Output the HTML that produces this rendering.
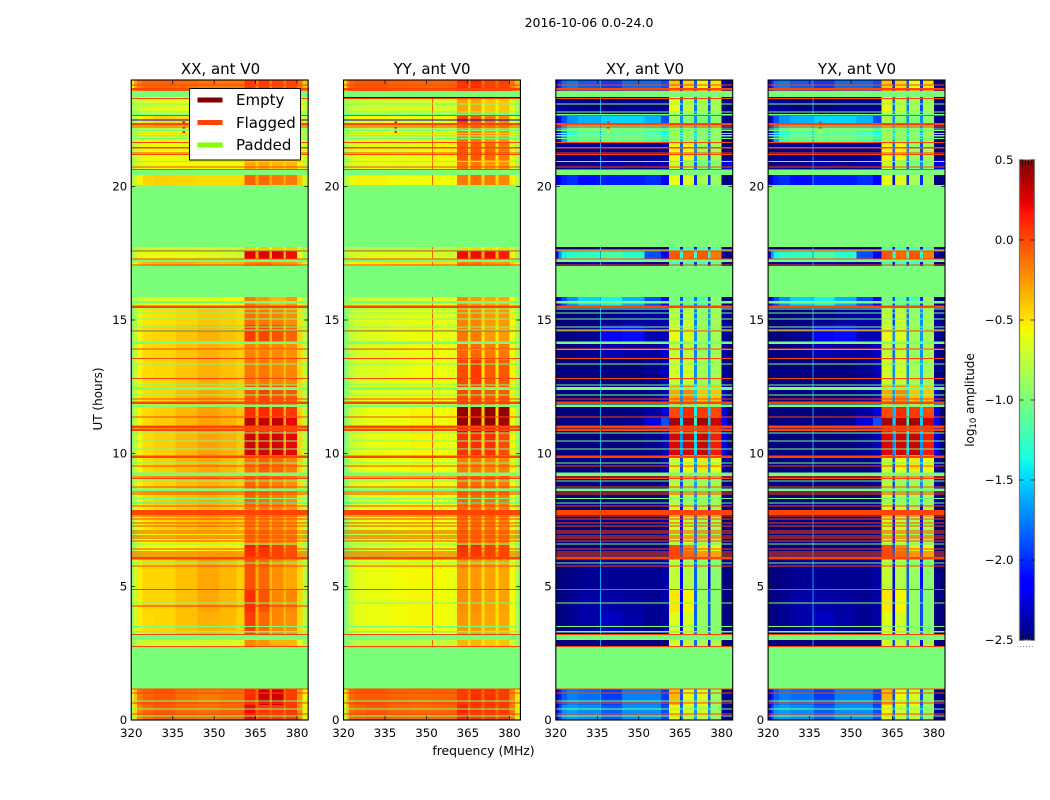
<!DOCTYPE html>
<html>
<head>
<meta charset="utf-8">
<title>2016-10-06 waterfall</title>
<style>
html,body{margin:0;padding:0;background:#fff;}
svg{display:block;}
text{font-family:"DejaVu Sans","Liberation Sans",sans-serif;fill:#000;}
</style>
</head>
<body>
<svg id="figure" width="1050" height="800" viewBox="0 0 1050 800" xmlns="http://www.w3.org/2000/svg">
  <rect x="0" y="0" width="1050" height="800" fill="#fff"/>
  <text x="589" y="27" font-size="12.5" text-anchor="middle">2016-10-06 0.0-24.0</text>
  <g id="plots"></g>
  <text x="220.5" y="74" font-size="15" text-anchor="middle">XX, ant V0</text>
  <text x="432" y="74" font-size="15" text-anchor="middle">YY, ant V0</text>
  <text x="645" y="74" font-size="15" text-anchor="middle">XY, ant V0</text>
  <text x="857" y="74" font-size="15" text-anchor="middle">YX, ant V0</text>
  <text transform="translate(102,399) rotate(-90)" font-size="12" text-anchor="middle">UT (hours)</text>
  <text x="483.5" y="755" font-size="12.4" text-anchor="middle">frequency (MHz)</text>
  <g>
    <rect x="189.5" y="88.5" width="111" height="71.5" fill="#fff" stroke="#000" stroke-width="1"/>
    <rect x="197.5" y="97.5" width="25" height="5" fill="#800000"/>
    <text x="236" y="105" font-size="15">Empty</text>
    <rect x="197.5" y="120" width="25" height="5" fill="#ff4500"/>
    <text x="236" y="128" font-size="15">Flagged</text>
    <rect x="197.5" y="142.5" width="25" height="5" fill="#7fff00"/>
    <text x="236" y="150" font-size="15">Padded</text>
  </g>
  <g id="colorbar"></g>
  <text transform="translate(974,400) rotate(-90)" font-size="12" text-anchor="middle">log<tspan font-size="8.5" dy="2">10</tspan><tspan dy="-2"> amplitude</tspan></text>
  <line x1="1017" x2="1035" y1="646.5" y2="646.5" stroke="#888" stroke-width="1" stroke-dasharray="1 2"/>
</svg>
<script>
// Axis ticks
const freqTicks = [320, 335, 350, 365, 380];
const utTicks = [0, 5, 10, 15, 20];
const colorTicks = [0.5, 0, -0.5, -1, -1.5, -2, -2.5];
const colorTickLabels = ['0.5', '0.0', '\u22120.5', '\u22121.0', '\u22121.5', '\u22122.0', '\u22122.5'];

// Frequency bin edges (MHz)
const binEdgesMHz = [320,321,322,324,328,336,344,352,358,361,365,366,370,371,375,376,380,382,384];

// Time segments [start, end] in UT hours, listed from top of plot to bottom
const segmentsUT = [
[24,23.59],[23.36,22.69],[22.69,22.35],[22.35,21.68],[21.68,21.0],[21.0,20.44],[20.44,20.06],
[17.74,17.59],[17.59,17.29],[17.29,17.03],[15.86,15.53],[15.53,14.81],[14.81,14.14],[14.14,13.5],
[13.5,12.56],[12.56,11.81],[11.81,11.33],[11.33,11.03],[11.03,10.76],[10.76,9.94],[9.94,9.23],
[9.23,8.06],[8.06,7.13],[7.13,6.56],[6.56,6.08],[6.08,4.88],[4.88,4.05],[4.05,3.19],[3.0,2.76],
[1.16,0.56],[0.56,0]
];

// log10 amplitude x 100, one row per time segment, one column per frequency bin
const ampXX = [
[-60,-30,-15,-10,-10,-12,-15,-15,-15,5,-15,5,-15,0,-15,0,-15,-40],
[-85,-80,-72,-68,-65,-63,-63,-63,-63,-40,-50,-35,-50,-40,-50,-40,-55,-75],
[-85,-75,-60,-48,-43,-47,-52,-52,-52,-20,-45,-25,-45,-35,-45,-40,-50,-70],
[-85,-75,-67,-58,-54,-58,-60,-58,-58,-25,-45,-30,-45,-35,-45,-35,-55,-75],
[-85,-75,-67,-58,-57,-60,-57,-52,-52,-25,-45,-30,-45,-35,-45,-35,-55,-70],
[-85,-75,-67,-62,-58,-58,-58,-58,-58,-30,-45,-30,-45,-35,-45,-35,-55,-75],
[-85,-70,-55,-45,-43,-45,-47,-47,-47,-8,-30,-10,-30,-15,-30,-15,-40,-70],
[-90,-80,-75,-72,-70,-70,-70,-72,-75,-40,-55,-40,-55,-40,-55,-40,-70,-85],
[-85,-75,-65,-60,-60,-62,-65,-70,-75,25,-30,25,-35,25,-35,20,-60,-85],
[-80,-60,-45,-37,-33,-33,-37,-37,-37,-20,-20,-15,-20,-25,-25,-25,-40,-70],
[-90,-80,-70,-65,-60,-60,-60,-55,-55,-15,-30,-25,-35,-35,-35,-25,-55,-80],
[-95,-80,-60,-50,-48,-45,-40,-42,-47,-12,-32,-15,-35,-18,-35,-22,-50,-80],
[-95,-75,-55,-47,-45,-40,-33,-38,-42,5,-32,2,-35,-3,-35,-8,-45,-75],
[-95,-75,-55,-47,-45,-40,-33,-38,-43,-18,-34,-18,-36,-20,-36,-22,-45,-75],
[-95,-75,-55,-47,-45,-40,-33,-38,-43,-15,-32,-15,-36,-20,-36,-20,-45,-75],
[-95,-75,-55,-47,-45,-37,-30,-35,-42,-3,-32,3,-34,-3,-35,-5,-45,-75],
[-95,-75,-55,-47,-42,-35,-28,-33,-40,8,-30,10,-32,8,-32,5,-45,-75],
[-95,-75,-55,-47,-42,-35,-28,-33,-40,35,-27,33,-30,33,-32,22,-45,-75],
[-95,-75,-55,-47,-42,-35,-28,-33,-40,8,-30,8,-32,8,-32,3,-45,-75],
[-95,-75,-55,-47,-42,-35,-28,-33,-40,28,-25,28,-25,28,-28,22,-45,-75],
[-95,-75,-55,-47,-43,-35,-30,-35,-42,-12,-30,-7,-27,-10,-30,-17,-45,-75],
[-90,-72,-55,-47,-43,-37,-33,-38,-44,-8,-36,-12,-36,-17,-36,-22,-50,-78],
[-90,-72,-55,-50,-45,-40,-35,-40,-46,-14,-38,-17,-38,-20,-38,-24,-50,-78],
[-95,-80,-65,-58,-55,-52,-50,-52,-55,-15,-35,-15,-35,-20,-35,-22,-55,-80],
[-90,-78,-65,-60,-58,-55,-52,-52,-55,15,-20,12,-25,3,-25,-3,-50,-80],
[-90,-70,-52,-45,-45,-38,-30,-35,-42,-3,-32,-10,-36,-22,-36,-30,-45,-78],
[-90,-70,-52,-45,-45,-38,-30,-35,-42,8,-32,-3,-34,-20,-34,-20,-45,-78],
[-90,-70,-52,-47,-45,-38,-33,-36,-43,3,-32,-10,-36,-20,-36,-22,-45,-78],
[-95,-85,-75,-72,-70,-70,-70,-68,-65,-20,-30,-25,-35,-35,-35,-35,-60,-85],
[-70,-40,-15,-8,-5,-12,-15,-12,-12,10,-10,30,-8,28,-10,5,-25,-55],
[-80,-45,-20,-10,-5,-10,-12,-8,-8,20,-5,5,-5,5,-10,5,-20,-55]
];
const ampYY = [
[-50,-20,-8,-5,-5,-8,-10,-10,-8,8,-15,10,-10,3,-10,3,-15,-35],
[-90,-85,-75,-72,-70,-68,-68,-68,-68,-30,-55,-30,-55,-40,-55,-40,-65,-85],
[-85,-75,-60,-55,-55,-58,-60,-58,-55,5,-50,-5,-50,-15,-50,-20,-60,-80],
[-90,-80,-70,-65,-60,-62,-65,-62,-60,-15,-50,-15,-50,-25,-50,-25,-62,-85],
[-90,-80,-68,-62,-60,-62,-60,-55,-55,-5,-50,-5,-50,-10,-50,-15,-60,-85],
[-90,-80,-70,-65,-62,-63,-62,-60,-60,-12,-50,-15,-50,-25,-50,-25,-62,-85],
[-85,-75,-62,-55,-55,-58,-58,-58,-58,-15,-45,-12,-45,-15,-45,-20,-55,-80],
[-95,-90,-82,-80,-78,-78,-78,-80,-82,-45,-60,-45,-60,-45,-60,-45,-75,-90],
[-90,-80,-72,-68,-65,-65,-68,-70,-72,20,-30,20,-35,20,-35,15,-60,-90],
[-85,-70,-58,-52,-50,-48,-48,-48,-50,-15,-25,-15,-30,-25,-30,-25,-45,-75],
[-92,-85,-75,-70,-68,-68,-66,-62,-60,-20,-40,-25,-45,-30,-45,-30,-60,-85],
[-100,-90,-75,-68,-65,-62,-60,-62,-65,-18,-45,-18,-45,-25,-45,-25,-55,-85],
[-100,-90,-75,-68,-63,-60,-58,-60,-62,-15,-48,-15,-50,-25,-50,-25,-58,-85],
[-100,-90,-75,-68,-65,-62,-60,-60,-62,-10,-48,-10,-50,-15,-50,-15,-58,-85],
[-100,-90,-75,-68,-65,-62,-58,-60,-62,0,-48,5,-50,-5,-50,-5,-55,-85],
[-100,-88,-72,-65,-62,-60,-58,-60,-62,0,-45,0,-48,-5,-48,-5,-55,-85],
[-100,-88,-72,-65,-60,-58,-55,-58,-55,45,-45,40,-45,45,-45,45,-55,-85],
[-100,-88,-72,-65,-60,-58,-55,-58,-55,45,-45,45,-45,45,-45,40,-55,-85],
[-100,-88,-72,-65,-60,-58,-55,-58,-58,25,-45,25,-45,25,-45,18,-55,-85],
[-100,-88,-72,-65,-60,-58,-55,-58,-60,8,-45,8,-45,8,-45,0,-55,-85],
[-100,-88,-72,-65,-60,-58,-55,-58,-62,-15,-45,-15,-45,-18,-45,-18,-55,-85],
[-100,-88,-72,-65,-62,-58,-56,-58,-62,-10,-48,-10,-48,-12,-48,-15,-58,-85],
[-100,-88,-72,-65,-62,-58,-56,-58,-62,-12,-48,-12,-48,-15,-48,-18,-58,-85],
[-100,-90,-78,-72,-68,-65,-62,-62,-65,-10,-45,-10,-45,-15,-45,-18,-60,-88],
[-100,-90,-78,-72,-68,-65,-62,-62,-65,10,-40,10,-40,3,-40,0,-60,-88],
[-100,-88,-72,-62,-60,-57,-56,-57,-60,-25,-48,-25,-48,-28,-48,-30,-58,-85],
[-100,-88,-72,-62,-60,-57,-56,-57,-60,-22,-48,-22,-48,-28,-48,-28,-58,-85],
[-100,-88,-72,-62,-60,-57,-56,-57,-60,-25,-48,-25,-48,-30,-48,-30,-58,-85],
[-100,-92,-85,-80,-78,-78,-78,-75,-72,-35,-50,-35,-50,-40,-50,-40,-70,-90],
[-65,-30,-10,-5,-5,-8,-10,-8,-8,5,-12,10,-10,8,-10,5,-20,-50],
[-75,-35,-12,-8,-5,-8,-10,-8,-8,12,-8,5,-8,5,-10,5,-15,-50]
];
const ampXY = [
[-225,-200,-180,-175,-185,-195,-180,-180,-190,-40,-200,-45,-185,-60,-200,-50,-240,-250],
[-240,-240,-245,-245,-248,-248,-245,-245,-245,-60,-180,-75,-175,-85,-190,-85,-250,-250],
[-240,-220,-190,-170,-160,-150,-150,-160,-190,-85,-170,-95,-170,-100,-170,-95,-245,-250],
[-230,-205,-165,-130,-115,-110,-110,-120,-140,-80,-150,-85,-150,-90,-160,-85,-240,-250],
[-250,-250,-245,-245,-245,-245,-245,-245,-240,-55,-180,-55,-170,-90,-190,-85,-250,-250],
[-250,-250,-245,-245,-245,-240,-245,-240,-240,-70,-190,-85,-180,-100,-170,-95,-230,-210],
[-230,-215,-205,-200,-210,-205,-205,-200,-215,-60,-210,-65,-200,-85,-200,-90,-250,-250],
[-250,-250,-250,-250,-250,-250,-250,-250,-250,-120,-220,-120,-210,-120,-220,-120,-250,-250],
[-220,-170,-140,-130,-125,-115,-130,-190,-220,-5,-130,-10,-120,-5,-130,-15,-240,-250],
[-250,-250,-245,-240,-235,-235,-240,-245,-245,-120,-210,-120,-200,-120,-210,-110,-250,-250],
[-240,-215,-190,-170,-150,-140,-160,-190,-215,-100,-190,-110,-180,-120,-200,-90,-245,-250],
[-250,-250,-250,-250,-248,-245,-240,-240,-240,-75,-190,-72,-175,-90,-170,-85,-240,-245],
[-250,-250,-250,-248,-245,-220,-210,-235,-235,-60,-170,-65,-170,-85,-165,-85,-240,-250],
[-250,-250,-250,-248,-245,-235,-240,-240,-230,-75,-180,-75,-175,-90,-170,-85,-240,-250],
[-250,-250,-250,-250,-250,-250,-250,-245,-235,-70,-170,-70,-170,-85,-160,-85,-245,-250],
[-250,-250,-250,-250,-250,-250,-248,-245,-235,-30,-170,-20,-150,-40,-150,-40,-230,-250],
[-250,-250,-250,-250,-250,-250,-248,-240,-225,0,-160,10,-140,5,-150,0,-225,-250],
[-250,-250,-250,-250,-250,-250,-245,-225,-190,40,-150,38,-130,40,-150,30,-210,-250],
[-250,-250,-250,-250,-250,-250,-248,-240,-225,15,-150,15,-140,15,-160,10,-220,-250],
[-250,-250,-250,-250,-250,-250,-250,-245,-235,25,-170,28,-150,30,-170,15,-225,-250],
[-250,-250,-250,-250,-250,-250,-250,-250,-240,-70,-190,-60,-170,-50,-170,-60,-240,-250],
[-250,-250,-250,-250,-250,-250,-250,-250,-245,-75,-190,-85,-165,-85,-170,-85,-240,-250],
[-250,-250,-250,-250,-250,-250,-250,-250,-245,-70,-210,-75,-180,-85,-210,-85,-250,-250],
[-250,-250,-250,-250,-250,-250,-250,-250,-245,-75,-210,-70,-180,-85,-210,-85,-250,-250],
[-250,-250,-250,-250,-250,-250,-250,-250,-245,0,-190,-20,-170,-50,-190,-60,-250,-250],
[-250,-250,-250,-248,-245,-245,-245,-245,-240,-75,-220,-80,-185,-90,-210,-95,-250,-250],
[-250,-250,-250,-245,-240,-240,-242,-245,-240,-50,-220,-55,-185,-90,-190,-95,-250,-250],
[-250,-250,-250,-245,-240,-232,-240,-245,-240,-65,-220,-68,-185,-90,-190,-95,-250,-250],
[-250,-250,-250,-250,-250,-250,-250,-250,-250,-70,-190,-75,-180,-85,-210,-85,-250,-250],
[-230,-205,-185,-175,-180,-195,-175,-175,-195,-35,-190,-60,-170,-65,-190,-90,-245,-250],
[-225,-195,-170,-165,-170,-185,-170,-170,-190,-55,-180,-70,-165,-70,-170,-90,-240,-250]
];
// The YX panel reads the same as XY in the picture at this bin resolution.
const ampYX = ampXY.map(function (row) { return row.slice(); });

// Flagged and padded time rows (UT hours), common to all polarisations
const flaggedThinUT = [23.81,23.31,22.67,22.23,21.65,21.46,21.27,21.20,20.73,20.65,17.59,17.29,17.06,14.58,13.91,13.56,12.81,12.03,11.37,9.53,9.12,9.06,8.74,8.55,8.48,8.03,7.65,7.54,7.39,7.28,7.09,7.01,6.90,6.83,6.71,6.41,6.30,6.23,6.15,5.78,4.90,3.21,2.76,1.16,1.01,0.64,0.23];
const flaggedThickUT = [23.65,22.34,15.50,11.90,11.0,10.88,9.87,7.82,7.74,6.06];
const paddedThinUT = [23.10,22.80,22.71,22.17,22.10,22.0,21.91,21.81,20.94,17.63,15.41,15.26,15.04,14.74,14.63,13.89,13.35,12.56,12.19,10.76,10.46,10.16,9.64,8.96,8.31,6.60,5.89,4.89,4.39,3.50,3.31,0.71,0.41,0.15];
const paddedBandsUT = [[23.59,23.36],[20.63,20.44],[20.07,17.74],[17.27,17.18],[17.03,15.90],[15.71,15.62],[14.19,14.10],[12.49,12.38],[11.83,11.74],[9.28,9.15],[8.68,8.59],[3.19,3.0],[2.75,1.16]];

// Narrow interference features: [MHz, value x 100] and [UT, value x 100]
const rfiColumnsXX = [];
const rfiColumnsYY = [[352,-8]];
const rfiColumnsXY = [[336,-165]];
const rfiColumnsYX = [[336,-165]];
const rfiRowsXX = [[22.5,-215],[8.14,-135],[4.27,10]];
const rfiRowsYY = [[23.34,-220],[22.5,-230],[8.14,-135]];
const rfiRowsXY = [[8.14,-100]];
const rfiRowsYX = [[8.14,-100]];
const rfiSpotsXX = [[338.5,22.45,30],[338.5,22.25,30],[338.5,22.1,10]];
const rfiSpotsYY = [[338.5,22.45,30],[338.5,22.25,30],[338.5,22.1,10]];
const rfiSpotsXY = [[338.5,22.45,10],[338.5,22.25,15],[338.5,22.1,-50]];
const rfiSpotsYX = [[338.5,22.45,10],[338.5,22.25,15],[338.5,22.1,-50]];

const SVG_NS = 'http://www.w3.org/2000/svg';
const panelWidth = 813.75 / 4.6;
const plotTop = 80;
const plotBottom = 720;
const freqMin = 320;
const freqMax = 384;
const utMax = 24;
const flaggedColor = '#ff4500';
const thinRowHeight = 1.05;

function panelLeft(index) { return 131.25 + index * panelWidth * 1.2; }
function xScale(index, mhz) { return panelLeft(index) + (mhz - freqMin) / (freqMax - freqMin) * panelWidth; }
function yScale(ut) { return plotBottom - ut / utMax * (plotBottom - plotTop); }

const jetR = [[0,0],[0.35,0],[0.66,1],[0.89,1],[1,0.5]];
const jetG = [[0,0],[0.125,0],[0.375,1],[0.64,1],[0.91,0],[1,0]];
const jetB = [[0,0.5],[0.11,1],[0.34,1],[0.65,0],[1,0]];
function ramp(stops, t) {
  for (let i = 1; i < stops.length; i++) {
    if (t <= stops[i][0]) {
      const a = stops[i - 1], b = stops[i];
      return a[1] + (b[1] - a[1]) * (t - a[0]) / (b[0] - a[0]);
    }
  }
  return stops[stops.length - 1][1];
}
function colorScale(log10Amp) {
  const t = Math.max(0, Math.min(1, (log10Amp + 2.5) / 3));
  return 'rgb(' + Math.round(255 * ramp(jetR, t)) + ',' + Math.round(255 * ramp(jetG, t)) + ',' + Math.round(255 * ramp(jetB, t)) + ')';
}
const paddedColor = colorScale(-1);

function makeRect(parent, x, y, w, h, fill) {
  const el = document.createElementNS(SVG_NS, 'rect');
  el.setAttribute('x', x.toFixed(2));
  el.setAttribute('y', y.toFixed(2));
  el.setAttribute('width', w.toFixed(2));
  el.setAttribute('height', h.toFixed(2));
  el.setAttribute('fill', fill);
  parent.appendChild(el);
  return el;
}
function makeLine(parent, x1, y1, x2, y2) {
  const el = document.createElementNS(SVG_NS, 'line');
  el.setAttribute('x1', x1);
  el.setAttribute('y1', y1);
  el.setAttribute('x2', x2);
  el.setAttribute('y2', y2);
  el.setAttribute('stroke', '#000');
  el.setAttribute('stroke-width', '0.7');
  parent.appendChild(el);
  return el;
}
function makeText(parent, x, y, str, anchor) {
  const el = document.createElementNS(SVG_NS, 'text');
  el.setAttribute('x', x);
  el.setAttribute('y', y);
  el.setAttribute('font-size', '11.8');
  el.setAttribute('text-anchor', anchor);
  el.textContent = str;
  parent.appendChild(el);
  return el;
}

const panelData = [
  { name: 'xx', amp: ampXX, cols: rfiColumnsXX, rows: rfiRowsXX, spots: rfiSpotsXX },
  { name: 'yy', amp: ampYY, cols: rfiColumnsYY, rows: rfiRowsYY, spots: rfiSpotsYY },
  { name: 'xy', amp: ampXY, cols: rfiColumnsXY, rows: rfiRowsXY, spots: rfiSpotsXY },
  { name: 'yx', amp: ampYX, cols: rfiColumnsYX, rows: rfiRowsYX, spots: rfiSpotsYX }
];

function drawPanel(index, panel) {
  const root = document.getElementById('plots');
  const g = document.createElementNS(SVG_NS, 'g');
  
  
  g.setAttribute('shape-rendering', 'crispEdges');
  root.appendChild(g);

  const left = xScale(index, freqMin);
  const right = xScale(index, freqMax);

  const base = makeRect(g, left, plotTop, panelWidth, plotBottom - plotTop, paddedColor);
  
  

  segmentsUT.forEach(function (seg, r) {
    const y0 = yScale(seg[0]);
    const y1 = yScale(seg[1]);
    panel.amp[r].forEach(function (v, c) {
      const x0 = xScale(index, binEdgesMHz[c]);
      const x1 = xScale(index, binEdgesMHz[c + 1]);
      const cell = makeRect(g, x0, y0, x1 - x0, y1 - y0, colorScale(v / 100));
      
      
    });
    panel.cols.forEach(function (col) {
      const rfi = makeRect(g, xScale(index, col[0]), y0, 1.05, y1 - y0, colorScale(col[1] / 100));
      
      
    });
  });

  panel.spots.forEach(function (spot) {
    const s = makeRect(g, xScale(index, spot[0]), yScale(spot[1]), 2.4, 2.6, colorScale(spot[2] / 100));
    
    
  });

  paddedBandsUT.forEach(function (band) {
    const p = makeRect(g, left, yScale(band[0]), panelWidth, yScale(band[1]) - yScale(band[0]), paddedColor);
    
    
  });
  paddedThinUT.forEach(function (ut) {
    const p = makeRect(g, left, yScale(ut) - thinRowHeight / 2, panelWidth, thinRowHeight, paddedColor);
    
    
  });
  panel.rows.forEach(function (row) {
    const p = makeRect(g, left, yScale(row[0]) - thinRowHeight / 2, panelWidth, thinRowHeight, colorScale(row[1] / 100));
    
    
  });
  flaggedThinUT.forEach(function (ut) {
    const f = makeRect(g, left, yScale(ut) - thinRowHeight / 2, panelWidth, thinRowHeight, flaggedColor);
    
    
  });
  flaggedThickUT.forEach(function (ut) {
    const f = makeRect(g, left, yScale(ut) - 1.25, panelWidth, 2.5, flaggedColor);
    
    
  });

  const axes = document.createElementNS(SVG_NS, 'g');
  
  
  root.appendChild(axes);

  const frame = makeRect(axes, left, plotTop, panelWidth, plotBottom - plotTop, 'none');
  frame.setAttribute('stroke', '#000');
  frame.setAttribute('stroke-width', '1.1');
  
  

  freqTicks.forEach(function (mhz) {
    const x = xScale(index, mhz);
    const bottomTick = makeLine(axes, x, plotBottom, x, plotBottom - 4);
    
    
    const topTick = makeLine(axes, x, plotTop, x, plotTop + 4);
    
    
    const label = makeText(axes, x, 737, String(mhz), 'middle');
    
    
  });
  utTicks.forEach(function (ut) {
    const y = yScale(ut);
    const leftTick = makeLine(axes, left, y, left + 4, y);
    
    
    const rightTick = makeLine(axes, right, y, right - 4, y);
    
    
    const label = makeText(axes, left - 4, y + 4, String(ut), 'end');
    
    
  });
}
panelData.forEach(function (panel, i) { drawPanel(i, panel); });

function drawColorbar() {
  const g = document.getElementById('colorbar');
  const left = 1019.5, width = 15, top = 160, bottom = 640;
  const cbY = function (v) { return bottom - (v + 2.5) / 3 * (bottom - top); };
  const swatches = document.createElementNS(SVG_NS, 'g');
  
  
  swatches.setAttribute('shape-rendering', 'crispEdges');
  g.appendChild(swatches);
  for (let v = -2.5; v < 0.5; v += 0.0125) {
    const sw = makeRect(swatches, left, cbY(v + 0.0125), width, 2.2, colorScale(v + 0.00625));
    
    
  }
  const frame = makeRect(g, left, top, width, bottom - top, 'none');
  frame.setAttribute('stroke', '#777');
  frame.setAttribute('stroke-width', '1.2');
  
  
  colorTicks.forEach(function (v, i) {
    const y = cbY(v);
    const a = makeLine(g, left, y, left + 4, y);
    
    
    const b = makeLine(g, left + width, y, left + width - 4, y);
    
    
    const label = makeText(g, left - 6, y + 4, colorTickLabels[i], 'end');
    
    
  });
  for (let k = 1; k <= 4; k++) {
    const x = left + k * width / 5;
    const t = makeLine(g, x, top, x, top + 5);
    
    
    const u = makeLine(g, x, bottom, x, bottom - 5);
    
    
  }
}
drawColorbar();
</script>
</body>
</html>
